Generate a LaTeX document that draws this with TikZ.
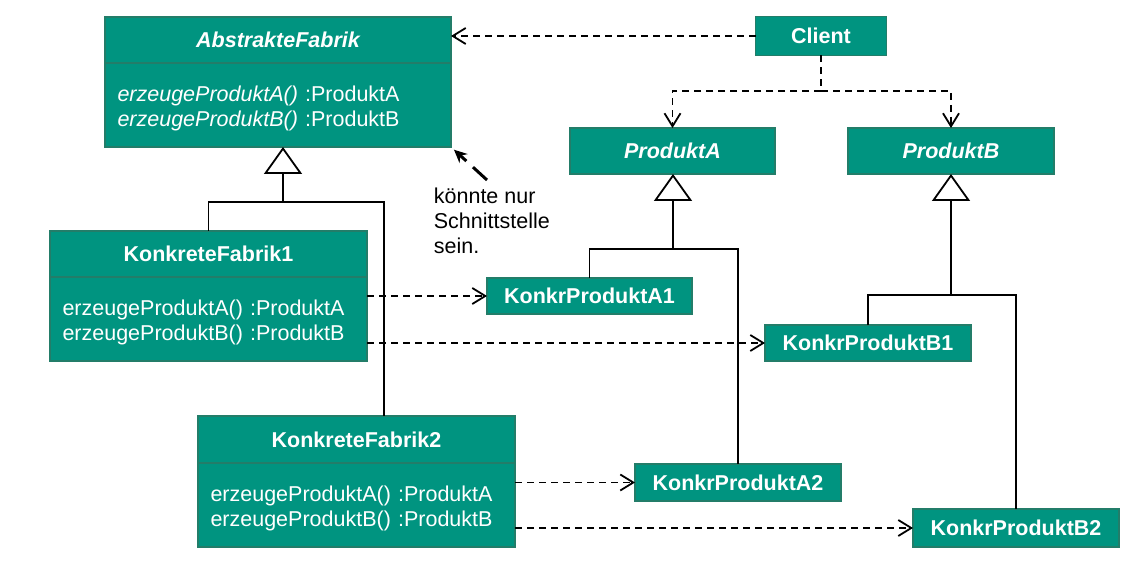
\documentclass[tikz,border=0pt]{standalone}
\usepackage{fontspec}
\setmainfont{Liberation Sans}
\usetikzlibrary{positioning, arrows.meta}

\definecolor{umlfill}{RGB}{0,148,128}
\definecolor{umlline}{RGB}{35,125,105}
\newcommand{\umlsize}{\fontsize{21.5}{25}\selectfont}

\tikzset{
  cls/.style = {draw = umlline, fill = umlfill, text = white, line width = 1.2pt,
                inner sep = 0pt, outer sep = 0pt, font = \umlsize\bfseries},
  clsbody/.style = {cls, font = \umlsize, align = left, minimum height = 84pt, inner xsep = 12.5pt,
                    execute at begin node = \rule{0pt}{22pt}},
  dep/.style = {dashed, dash pattern = on 7pt off 5pt, ->},
  inherit/.style = {-{Triangle[open, length = 27pt, width = 38pt]}},
  hint/.style = {line width = 3pt, dash pattern = on 19pt off 9pt, -{Stealth[length = 13pt, width = 12pt]}}
}

\begin{document}
\begin{tikzpicture}[x = 1pt, y = -1pt, line width = 1.8pt, >={Straight Barb[length = 13pt, width = 16pt]}]
            \useasboundingbox (0, 0) rectangle (1144, 564);

            \node[cls, minimum width = 346pt, minimum height = 46pt] (af) at (278, 40) {\itshape AbstrakteFabrik};
            \node[clsbody, text width = 321pt] (afbody) [below = 0pt of af]
              {\textit{erzeugeProduktA()} :ProduktA\\\textit{erzeugeProduktB()} :ProduktB};

            \node[cls, minimum width = 317pt, minimum height = 46pt] (kf1) at (208.5, 254) {KonkreteFabrik1};
            \node[clsbody, text width = 292pt] (kf1body) [below = 0pt of kf1]
              {erzeugeProduktA() :ProduktA\\erzeugeProduktB() :ProduktB};

            \node[cls, minimum width = 317pt, minimum height = 47pt] (kf2) at (356.5, 439.5) {KonkreteFabrik2};
            \node[clsbody, text width = 292pt] (kf2body) [below = 0pt of kf2]
              {erzeugeProduktA() :ProduktA\\erzeugeProduktB() :ProduktB};

            \node[cls, minimum width = 131pt, minimum height = 39pt] (client) at (821, 36) {Client};
            \node[cls, minimum width = 205pt, minimum height = 46pt] (pa) at (672.5, 151) {\itshape ProduktA};
            \node[cls, minimum width = 206pt, minimum height = 46pt] (pb) at (951, 151) {\itshape ProduktB};

            \node[cls, minimum width = 205pt, minimum height = 36pt] (kpa1) at (589.5, 296) {KonkrProduktA1};
            \node[cls, minimum width = 206pt, minimum height = 36pt] (kpb1) at (868, 343) {KonkrProduktB1};
            \node[cls, minimum width = 206pt, minimum height = 37pt] (kpa2) at (738, 482.5) {KonkrProduktA2};
            \node[cls, minimum width = 206pt, minimum height = 38pt] (kpb2) at (1016, 528) {KonkrProduktB2};

            \node[align = left, anchor = north west, inner sep = 0pt, font = \umlsize] (note) at (433, 187.5)
              {könnte nur\\Schnittstelle\\sein.};

            % inheritance
            \coordinate (afjoin) at (283, 202);
            \coordinate (pajoin) at (673, 249);
            \coordinate (pbjoin) at (951, 295);
            \coordinate (kf2top) at (384, 416);

            \draw[inherit] (afjoin) -- (afjoin |- afbody.south);
            \draw (kf1.north) |- (afjoin) -| (kf2top);
            \draw[inherit] (pajoin) -- (pajoin |- pa.south);
            \draw (kpa1.north) |- (pajoin) -| (kpa2.north);
            \draw[inherit] (pbjoin) -- (pb.south);
            \draw (kpb1.north) |- (pbjoin) -| (kpb2.north);

            % dependencies
            \coordinate (clientjoin) at (821, 91);
            \draw[dep] (client.west) -- (client.west -| afbody.east);
            \draw[dep, -] (client.south) -- (clientjoin);
            \draw[dep] (clientjoin) -| (pa.north);
            \draw[dep] (clientjoin) -| (pb.north);

            \draw[dep] (kf1body.east |- kpa1.west) -- (kpa1.west);
            \draw[dep] (kf1body.east |- kpb1.west) -- (kpb1.west);
            \draw[dep] (kf2body.east |- kpa2.west) -- (kpa2.west);
            \draw[dep] (kf2body.east |- kpb2.west) -- (kpb2.west);

            \draw[hint, shorten > = 4pt] ([shift = {(54, -7.5)}]note.north west) -- (afbody.south east);
          \end{tikzpicture}
\end{document}
